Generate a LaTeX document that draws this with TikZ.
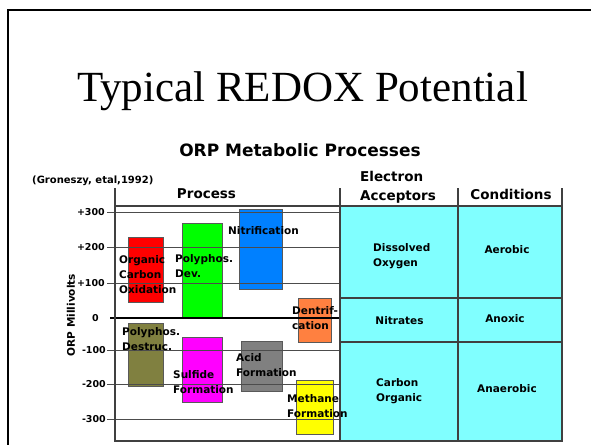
\documentclass[tikz,border=0pt]{standalone}
\usepackage{fontspec}
\setmainfont{Liberation Serif}
\newfontfamily\chartfont{DejaVu Sans}
\usepackage{tikz}

\definecolor{barred}{HTML}{FF0000}
\definecolor{bargreen}{HTML}{00FF00}
\definecolor{barblue}{HTML}{0080FF}
\definecolor{barorange}{HTML}{FF8040}
\definecolor{barolive}{HTML}{808040}
\definecolor{barmagenta}{HTML}{FF00FF}
\definecolor{bargray}{HTML}{808080}
\definecolor{baryellow}{HTML}{FFFF00}
\definecolor{cellcyan}{HTML}{80FFFF}

\begin{document}
\begin{tikzpicture}[x=1pt,y=-1pt,
    lbl/.style={font=\chartfont\bfseries\fontsize{10.5}{15}\selectfont,inner sep=0pt,align=left,anchor=base west},
    head/.style={font=\chartfont\bfseries\fontsize{13.5}{19}\selectfont,inner sep=0pt,align=left},
    tick/.style={font=\chartfont\bfseries\fontsize{9.5}{11}\selectfont,inner sep=0pt,anchor=east},
    bar/.style={draw=black!65,line width=0.9pt},
    grid line/.style={draw=black!70,line width=0.8pt},
    rule/.style={draw=black!75,line width=1.2pt}]

  \useasboundingbox (0,0) rectangle (591,444);

  % slide frame
  \draw[line width=2.6pt] (8,460) -- (8,10) -- (600,10);

  \node[font=\fontsize{43}{50}\selectfont,anchor=base] (title) at (302.5,101) {Typical REDOX Potential};

  % table background
  \fill[cellcyan] (340,206) rectangle (562,441);

  % bars
  \foreach \xa/\ya/\xb/\yb/\col in {128/237/163/302/barred, 182/223/222/318/bargreen,
      239/209/282/289/barblue, 298/298/331/342/barorange, 128/323/163/386/barolive,
      182/337/222/402/barmagenta, 241/341/282/391/bargray, 296/380/333/434/baryellow}
    \draw[bar,fill=\col] (\xa,\ya) rectangle (\xb,\yb);

  % grid lines and ticks
  \foreach \v/\y/\xr in {+300/212/105, +200/247/105, +100/283/105,
      -100/350/106, -200/384/106, -300/419/106} {
    \draw[grid line] (107,\y) -- (340,\y);
    \node[tick] at (\xr,\y) {\v};
  }
  \draw[black,line width=1.1pt] (110,318) -- (340,318);
  \node[tick] (zero) at (99,318) {0};

  % axis and table rules
  \draw[rule] (115,188) -- (115,441) -- (562,441) -- (562,188);
  \draw[rule] (340,188) -- (340,441);
  \draw[rule] (458,188) -- (458,441);
  \draw[rule] (115,206) -- (562,206);
  \draw[rule] (340,298) -- (562,298);
  \draw[rule] (340,342) -- (562,342);

  % headings
  \node[font=\chartfont\bfseries\fontsize{17}{20}\selectfont,anchor=base] (chart) at (300,156) {ORP Metabolic Processes};
  \node[font=\chartfont\bfseries\fontsize{10}{12}\selectfont,anchor=base west,inner sep=0pt] (source) at (32,183) {(Groneszy, etal,1992)};
  \node[head,anchor=base] (process) at (206.5,198) {Process};
  \node[head,anchor=base west] (electron) at (360,181) {Electron};
  \node[head,anchor=base west] (acceptors) at (360,200) {Acceptors};
  \node[head,anchor=base] (conditions) at (511,199) {Conditions};
  \node[lbl,rotate=90,anchor=center] (ylabel) at (71,315) {ORP Millivolts};

  % process labels (base = last line)
  \node[lbl] (oxid) at (119,293) {Organic\\Carbon\\Oxidation};
  \node[lbl] (pdev) at (175,277) {Polyphos.\\Dev.};
  \node[lbl] (nitr) at (228,234) {Nitrification};
  \node[lbl] (denit) at (292,329) {Dentrif-\\cation};
  \node[lbl] (pdes) at (122,350) {Polyphos.\\Destruc.};
  \node[lbl] (sulf) at (173,393) {Sulfide\\Formation};
  \node[lbl] (acid) at (236,376) {Acid\\Formation};
  \node[lbl] (meth) at (287,417) {Methane\\Formation};

  % table cells
  \node[lbl] (oxygen) at (373,266) {Dissolved\\Oxygen};
  \node[lbl,anchor=base] (aerobic) at (507,253) {Aerobic};
  \node[lbl,anchor=base] (nitrates) at (399.5,324) {Nitrates};
  \node[lbl,anchor=base] (anoxic) at (505,322) {Anoxic};
  \node[lbl] (carbon) at (376,401) {Carbon\\Organic};
  \node[lbl,anchor=base] (anaerobic) at (507,392) {Anaerobic};
\end{tikzpicture}
\end{document}
